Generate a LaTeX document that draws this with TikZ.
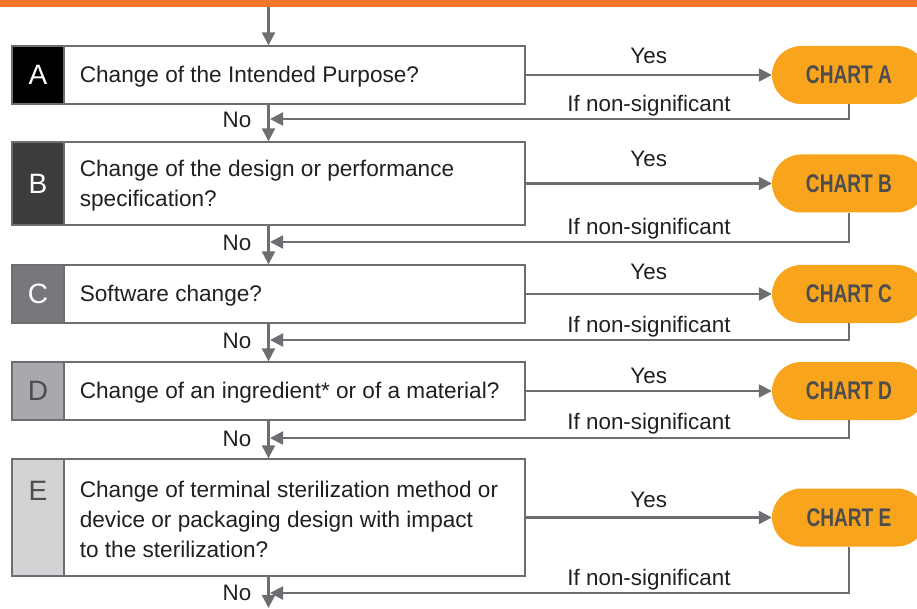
\documentclass[tikz,border=0pt]{standalone}
\usepackage{fontspec}
\setmainfont{Liberation Sans}
\usetikzlibrary{arrows.meta}
\definecolor{barorange}{RGB}{240,119,40}
\definecolor{chartorange}{RGB}{248,165,29}
\definecolor{linegray}{RGB}{109,110,113}
\definecolor{textgray}{RGB}{35,31,32}
\definecolor{chartgray}{RGB}{77,77,79}
\definecolor{blockB}{RGB}{61,61,63}
\definecolor{blockC}{RGB}{119,120,123}
\definecolor{blockD}{RGB}{167,169,172}
\definecolor{blockE}{RGB}{209,211,212}
\tikzset{
  qbox/.style={draw=linegray,line width=1.3pt,fill=white,minimum width=513pt,inner sep=0pt},
  letterbox/.style={draw=linegray,line width=1.3pt,minimum width=52pt,inner sep=0pt,anchor=west,font=\fontsize{28}{28}\selectfont},
  qtext/.style={anchor=west,align=left,inner sep=0pt,yshift=-2pt,text=textgray,font=\fontsize{22.6}{30}\selectfont},
  chart/.style={fill=chartorange,rounded corners=29pt,minimum width=154pt,minimum height=58pt,inner sep=0pt,text=chartgray,font=\fontsize{25.5}{25.5}\selectfont\bfseries},
  flow/.style={draw=linegray,line width=2.2pt,-{Triangle[length=13pt,width=13pt]}},
  lbl/.style={text=textgray,font=\fontsize{22.4}{22.4}\selectfont,inner sep=0pt}
}
\newcommand{\chartlabel}[1]{\scalebox{0.75}[1]{#1}}
\begin{document}
\begin{tikzpicture}[x=1pt,y=-1pt]
  \useasboundingbox (0,0) rectangle (917,609);
  \fill[barorange] (0,0) rectangle (917,7);

  % question boxes
  \node[qbox,minimum height=58pt] (boxA) at (268.5,75) {};
  \node[letterbox,minimum height=58pt,fill=black,text=white] (letA) at (boxA.west) {A};
  \node[qtext] (txtA) at ([xshift=15pt]letA.east) {Change of the Intended Purpose?};

  \node[qbox,minimum height=83pt] (boxB) at (268.5,183.5) {};
  \node[letterbox,minimum height=83pt,fill=blockB,text=white] (letB) at (boxB.west) {B};
  \node[qtext] (txtB) at ([xshift=15pt]letB.east) {Change of the design or performance\\specification?};

  \node[qbox,minimum height=58pt] (boxC) at (268.5,294) {};
  \node[letterbox,minimum height=58pt,fill=blockC,text=white] (letC) at (boxC.west) {C};
  \node[qtext] (txtC) at ([xshift=15pt]letC.east) {Software change?};

  \node[qbox,minimum height=58pt] (boxD) at (268.5,391) {};
  \node[letterbox,minimum height=58pt,fill=blockD,text=chartgray] (letD) at (boxD.west) {D};
  \node[qtext] (txtD) at ([xshift=15pt]letD.east) {Change of an ingredient* or of a material?};

  \node[qbox,minimum height=117pt] (boxE) at (268.5,517.5) {};
  \node[letterbox,minimum height=117pt,fill=blockE,text=chartgray] (letE) at (boxE.west) {};
  \node[letterbox,draw=none,anchor=north] (letEtxt) at ([yshift=-22pt]letE.north) {\textcolor{chartgray}{E}};
  \node[qtext] (txtE) at ([xshift=15pt]letE.east) {Change of terminal sterilization method or\\device or packaging design with impact\\to the sterilization?};

  % charts
  \node[chart] (chartA) at (849,75) {\chartlabel{CHART A}};
  \node[chart] (chartB) at (849,183.5) {\chartlabel{CHART B}};
  \node[chart] (chartC) at (849,294) {\chartlabel{CHART C}};
  \node[chart] (chartD) at (849,391) {\chartlabel{CHART D}};
  \node[chart] (chartE) at (849,517.5) {\chartlabel{CHART E}};

  % main flow
  \coordinate (start) at (268.5,7);
  \coordinate (finish) at (268.5,608);
  \draw[flow] (start) -- (boxA.north);
  \draw[flow] (boxA.south) -- (boxB.north);
  \draw[flow] (boxB.south) -- (boxC.north);
  \draw[flow] (boxC.south) -- (boxD.north);
  \draw[flow] (boxD.south) -- (boxE.north);
  \draw[flow] (boxE.south) -- (finish);

  % yes arrows
  \draw[flow] (boxA.east) -- (chartA.west) node[lbl,midway,yshift=19pt] {Yes};
  \draw[flow] (boxB.east) -- (chartB.west) node[lbl,midway,yshift=25pt] {Yes};
  \draw[flow] (boxC.east) -- (chartC.west) node[lbl,midway,yshift=22pt] {Yes};
  \draw[flow] (boxD.east) -- (chartD.west) node[lbl,midway,yshift=15pt] {Yes};
  \draw[flow] (boxE.east) -- (chartE.west) node[lbl,midway,yshift=18pt] {Yes};

  % return arrows
  \coordinate (retA) at (270,119);
  \coordinate (retB) at (270,242);
  \coordinate (retC) at (270,340);
  \coordinate (retD) at (270,438);
  \coordinate (retE) at (270,593);
  \draw[flow] (chartA.south) |- (retA);
  \draw[flow] (chartB.south) |- (retB);
  \draw[flow] (chartC.south) |- (retC);
  \draw[flow] (chartD.south) |- (retD);
  \draw[flow] (chartE.south) |- (retE);
  \node[lbl] (sigA) at (649,106) {If non-significant};
  \node[lbl] (sigB) at (649,229) {If non-significant};
  \node[lbl] (sigC) at (649,327) {If non-significant};
  \node[lbl] (sigD) at (649,424) {If non-significant};
  \node[lbl] (sigE) at (649,580) {If non-significant};
  \node[lbl] (noA) at (237,120) {No};
  \node[lbl] (noB) at (237,243) {No};
  \node[lbl] (noC) at (237,341) {No};
  \node[lbl] (noD) at (237,439) {No};
  \node[lbl] (noE) at (237,593) {No};
\end{tikzpicture}
\end{document}
